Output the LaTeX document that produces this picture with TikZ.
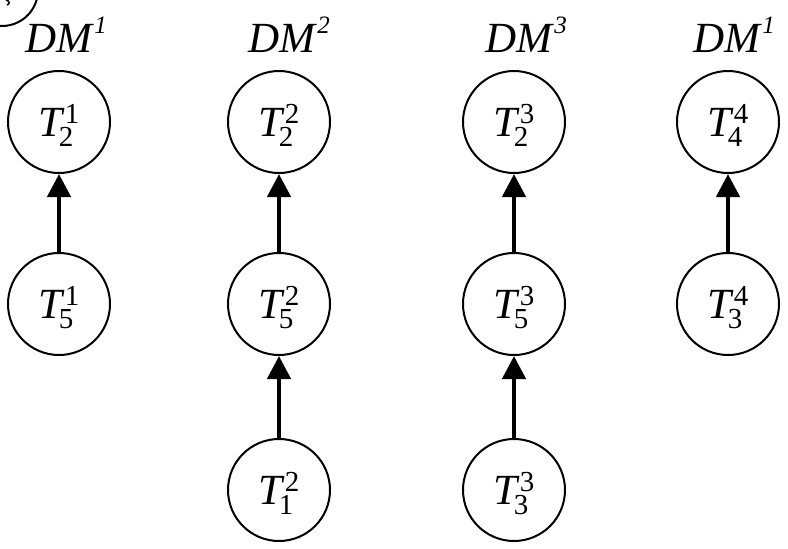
\documentclass[tikz,border=0pt]{standalone}
\usepackage{fontspec}
\setmainfont{Liberation Serif}
\usetikzlibrary{arrows.meta}

% T with stacked subscript/superscript digits
\newcommand{\tsym}[2]{\textit{T}\hspace{-6pt}\rlap{\raisebox{-10pt}{\fontsize{29}{29}\selectfont #1}}\hspace{6pt}\raisebox{13pt}{\fontsize{29}{29}\selectfont #2}}
% decision-maker heading
\newcommand{\dmlabel}[1]{\textit{DM}\rlap{\raisebox{19pt}{\fontsize{25}{25}\selectfont\itshape #1}}}

\begin{document}
\begin{tikzpicture}[x=1pt,y=-1pt,
  task/.style={circle,draw,line width=2pt,minimum size=102pt,inner sep=0pt,
    font=\fontsize{43}{43}\selectfont,text height=31pt,text depth=3pt},
  head/.style={anchor=base,inner sep=0pt,font=\fontsize{43}{43}\selectfont},
  prec/.style={line width=4.5pt,-{Triangle[length=23pt,width=23pt]}}]
\useasboundingbox (0,0) rectangle (788,549);

% cut-off mark in the corner
\begin{scope}
  \clip (0,0) rectangle (60,40);
  \draw[line width=2pt] (2,-10) circle[radius=36];
  \draw[line width=1.5pt] (6,0) .. controls (10,1) and (10,4) .. (7,5);
\end{scope}

% headings
\node[head] (h1) at (60,52) {\dmlabel{1}};
\node[head] (h2) at (283,52) {\dmlabel{2}};
\node[head] (h3) at (520,52) {\dmlabel{3}};
\node[head] (h4) at (728,52) {\dmlabel{1}};

% tasks
\node[task] (a1) at (59,122) {\tsym{2}{1}};
\node[task] (a2) at (59,304) {\tsym{5}{1}};

\node[task] (b1) at (279,122) {\tsym{2}{2}};
\node[task] (b2) at (279,304) {\tsym{5}{2}};
\node[task] (b3) at (279,490) {\tsym{1}{2}};

\node[task] (c1) at (514,122) {\tsym{2}{3}};
\node[task] (c2) at (514,304) {\tsym{5}{3}};
\node[task] (c3) at (514,490) {\tsym{3}{3}};

\node[task] (d1) at (728,122) {\tsym{4}{4}};
\node[task] (d2) at (728,304) {\tsym{3}{4}};

% precedence arrows
\draw[prec] (a2) -- (a1);
\draw[prec] (b2) -- (b1);
\draw[prec] (b3) -- (b2);
\draw[prec] (c2) -- (c1);
\draw[prec] (c3) -- (c2);
\draw[prec] (d2) -- (d1);
\end{tikzpicture}
\end{document}
